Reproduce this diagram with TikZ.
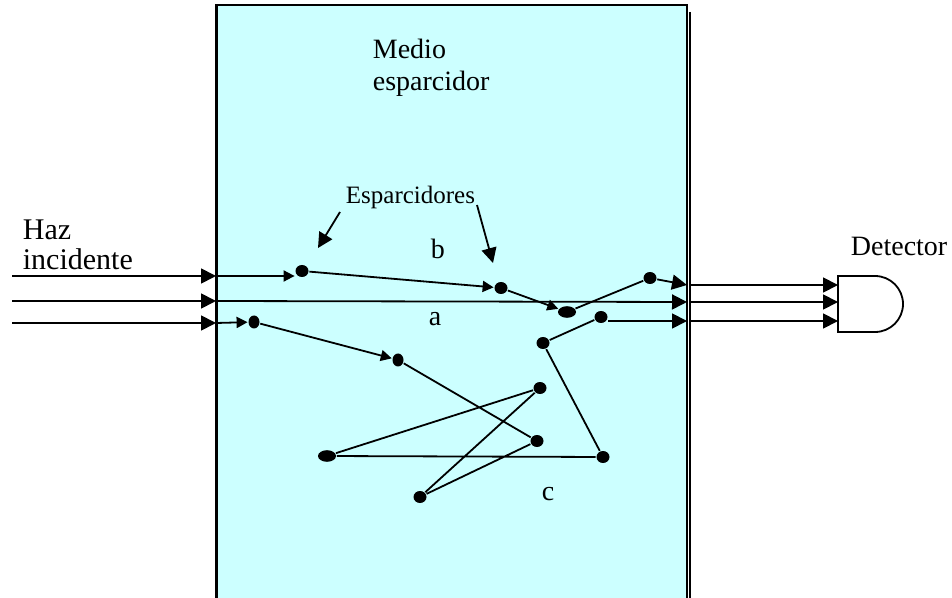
\documentclass[tikz,border=0pt]{standalone}
\usepackage{fontspec}
\setmainfont{Liberation Serif}
\usetikzlibrary{arrows.meta, shapes.geometric}
\definecolor{medio}{HTML}{CCFFFF}

\begin{document}
\begin{tikzpicture}[x=0.5pt, y=-0.5pt, >={Triangle[length=7.5pt,width=7.5pt]}, line width=0.9pt,
    scat/.style={ellipse, fill=black, inner sep=0pt, minimum width=6.5pt, minimum height=6pt},
    wide/.style={scat, minimum width=9pt, minimum height=5.8pt},
    small/.style={-{Triangle[length=5.5pt,width=5.5pt]}},
    lbl/.style={font=\fontsize{14}{16}\selectfont, inner sep=0pt}]
    \useasboundingbox (0,0) rectangle (952,598);

    % medio esparcidor
    \fill[medio] (216,5) rectangle (687,610);
    \draw (216,610) -- (216,5) -- (687,5) -- (687,610);
    \draw[line width=1.5pt] (216,5) -- (216,610);
    \draw (690,12) -- (690,610);

    \node[lbl, align=left, anchor=north west] (medio) at (372,38) {Medio\\esparcidor};
    \node[lbl, font=\fontsize{12.5}{14}\selectfont, anchor=base west] (esp) at (345,204) {Esparcidores};
    \node[lbl, font=\fontsize{15}{15}\selectfont, align=left, anchor=north west] (haz) at (22,219) {Haz\\incidente};
    \node[lbl, anchor=base west] (det) at (850,256) {Detector};
    \node[lbl, anchor=base west] (b) at (430,259) {b};
    \node[lbl, anchor=base west] (a) at (428,326) {a};
    \node[lbl, anchor=base west] (c) at (541,500) {c};

    % esparcidores
    \node[scat] (s1) at (302,271) {};
    \node[scat] (s2) at (501,288) {};
    \node[wide] (s3) at (567,312) {};
    \node[scat] (s4) at (650,278) {};
    \node[scat, minimum width=5.5pt, minimum height=6.5pt] (t1) at (254,322) {};
    \node[scat, minimum width=5.5pt, minimum height=6.5pt] (t2) at (398,360) {};
    \node[scat] (t3) at (537,441) {};
    \node[scat] (t4) at (420,497) {};
    \node[scat] (t5) at (540,388) {};
    \node[wide] (t6) at (327,456) {};
    \node[scat] (t7) at (603,457) {};
    \node[scat] (t8) at (543,343) {};
    \node[scat] (t9) at (601,317) {};

    % haz incidente
    \coordinate (in1) at (12,276);  \coordinate (e1) at (216,276);
    \coordinate (in2) at (12,301);  \coordinate (e2) at (216,301);
    \coordinate (in3) at (12,323);  \coordinate (e3) at (216,323);
    \coordinate (x1) at (687,285);  \coordinate (o1) at (690,285);
    \coordinate (x2) at (687,302);  \coordinate (o2) at (690,302);
    \coordinate (x3) at (687,321);  \coordinate (o3) at (690,321);
    \coordinate (d1) at (838,285);
    \coordinate (d2) at (838,302);
    \coordinate (d3) at (838,321);

    \draw[->] (in1) -- (e1);
    \draw[->] (in2) -- (e2);
    \draw[->] (in3) -- (e3);

    % b
    \draw[small] (e1) -- (s1.west |- e1);
    \draw[small] (s1) -- (s2);
    \draw[small] (s2) -- (s3);
    \draw (s3) -- (s4);
    \draw[->] (s4) -- (x1);
    % a
    \draw[->] (e2) -- (x2);
    % c
    \draw[small] (e3) -- (t1);
    \draw[small] (t1) -- (t2);
    \draw (t2) -- (t3) -- (t4) -- (t5) -- (t6) -- (t7) -- (t8) -- (t9);
    \draw[->] (t9.east |- x3) -- (x3);

    \draw[->] (o1) -- (d1);
    \draw[->] (o2) -- (d2);
    \draw[->] (o3) -- (d3);

    % detector
    \draw (838,276) -- (875,276) arc[start angle=90, end angle=-90, radius=14pt] -- (838,332) -- cycle;

    % flechas a los esparcidores
    \coordinate (p1) at (340,212);  \coordinate (q1) at (318,248);
    \coordinate (p2) at (477,205);  \coordinate (q2) at (493,263);
    \draw[->] (p1) -- (q1);
    \draw[->] (p2) -- (q2);
\end{tikzpicture}
\end{document}
